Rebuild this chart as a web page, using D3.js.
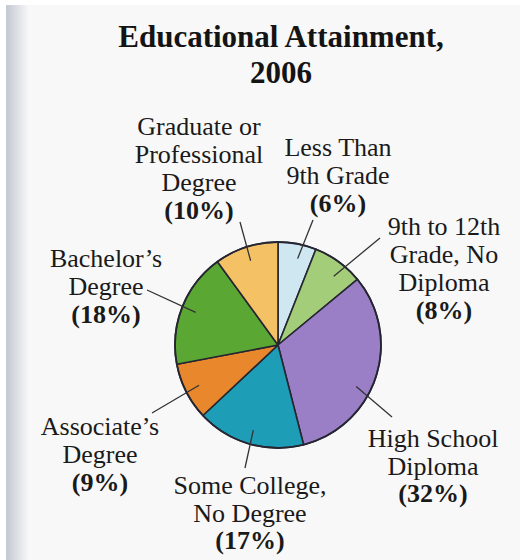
<!DOCTYPE html>
<html>
<head>
<meta charset="utf-8">
<script src="https://cdn.jsdelivr.net/npm/d3@7"></script>
<style>
  html, body { margin: 0; padding: 0; background: #ffffff; }
  svg { display: block; }
</style>
</head>
<body>
<svg id="chart" width="527" height="560"></svg>
<script>
// Educational attainment, 2006 — share of population by highest level completed
const categories = [
  "Less Than 9th Grade",
  "9th to 12th Grade, No Diploma",
  "High School Diploma",
  "Some College, No Degree",
  "Associate's Degree",
  "Bachelor's Degree",
  "Graduate or Professional Degree"
];
const percents = [6, 8, 32, 17, 9, 18, 10];
const labelLines = [
  ["Less Than", "9th Grade"],
  ["9th to 12th", "Grade, No", "Diploma"],
  ["High School", "Diploma"],
  ["Some College,", "No Degree"],
  ["Associate\u2019s", "Degree"],
  ["Bachelor\u2019s", "Degree"],
  ["Graduate or", "Professional", "Degree"]
];
const sliceColors = ["#cfe7f1", "#a3cd78", "#9a7fc7", "#1e9db6", "#e8872c", "#5ba733", "#f4c265"];

// label placement: text block centre x, first baseline y, line step, leader end point
const labelLayout = [
  { x: 338, y: 156, step: 28, lx: 313, ly: 220 },
  { x: 444, y: 235, step: 28, lx: 380, ly: 238 },
  { x: 433, y: 447, step: 27.5, lx: 392, ly: 417 },
  { x: 250, y: 494, step: 27.5, lx: 245, ly: 468 },
  { x: 100, y: 435, step: 28, lx: 152, ly: 413 },
  { x: 106, y: 267, step: 28, lx: 147, ly: 290 },
  { x: 199, y: 135, step: 28, lx: 240, ly: 222 }
];
// small angular nudges (degrees) for where a leader touches inside its slice
const leaderNudge = [2, 3, 10, 0, 0, 0, 0];

const W = 527, H = 560;
const cx = 278, cy = 345, R = 103;

const svg = d3.select("#chart");

// scanned-page backdrop
const defs = svg.append("defs");
const grad = defs.append("linearGradient").attr("id", "edge").attr("x1", 0).attr("x2", 1);
grad.append("stop").attr("offset", "0%").attr("stop-color", "#c3c8d1");
grad.append("stop").attr("offset", "100%").attr("stop-color", "#f6f6f7");
svg.append("rect").attr("x", 0).attr("y", 0).attr("width", W).attr("height", H).attr("fill", "#ffffff");
svg.append("rect").attr("x", 6).attr("y", 5).attr("width", 514).attr("height", H - 5).attr("fill", "#f8f8f8");
svg.append("rect").attr("x", 6).attr("y", 5).attr("width", 22).attr("height", H - 5).attr("fill", "url(#edge)");

// title
const title = svg.append("text")
  .attr("x", 281).attr("text-anchor", "middle")
  .attr("font-family", "'Liberation Serif', 'Times New Roman', serif")
  .attr("font-weight", "bold").attr("font-size", 31).attr("fill", "#141414");
title.append("tspan").attr("x", 281).attr("y", 47).text("Educational Attainment,");
title.append("tspan").attr("x", 281).attr("y", 83).text("2006");

// pie
const data = categories.map((c, i) => ({ name: c, value: percents[i], i }));
const pie = d3.pie().value(d => d.value).sort(null);
const arcs = pie(data);
const arc = d3.arc().innerRadius(0).outerRadius(R);
const color = d3.scaleOrdinal().domain(categories).range(sliceColors);

const g = svg.append("g").attr("transform", `translate(${cx},${cy})`);
g.selectAll("path.slice").data(arcs).join("path")
  .attr("class", "slice")
  .attr("d", arc)
  .attr("fill", d => color(d.data.name))
  .attr("stroke", "#262633")
  .attr("stroke-width", 1.6)
  .attr("stroke-linejoin", "round");
g.append("circle").attr("r", R).attr("fill", "none")
  .attr("stroke", "#262633").attr("stroke-width", 1.8);

// leader lines
svg.selectAll("line.leader").data(arcs).join("line")
  .attr("class", "leader")
  .each(function(d) {
    const a = (d.startAngle + d.endAngle) / 2 + leaderNudge[d.data.i] * Math.PI / 180;
    const r = R * 0.86;
    const L = labelLayout[d.data.i];
    d3.select(this)
      .attr("x1", cx + r * Math.sin(a)).attr("y1", cy - r * Math.cos(a))
      .attr("x2", L.lx).attr("y2", L.ly);
  })
  .attr("stroke", "#333333").attr("stroke-width", 1.3);

// labels
const labels = svg.selectAll("text.lbl").data(data).join("text")
  .attr("class", "lbl")
  .attr("text-anchor", "middle")
  .attr("font-family", "'Liberation Serif', 'Times New Roman', serif")
  .attr("font-size", 26).attr("fill", "#1a1a1a");
labels.each(function(d) {
  const t = d3.select(this);
  const L = labelLayout[d.i];
  const lines = labelLines[d.i];
  lines.forEach((s, k) => {
    t.append("tspan").attr("x", L.x).attr("y", L.y + k * L.step).text(s);
  });
  t.append("tspan").attr("x", L.x).attr("y", L.y + lines.length * L.step)
    .attr("font-weight", "bold").text(`(${d.value}%)`);
});
</script>
</body>
</html>
